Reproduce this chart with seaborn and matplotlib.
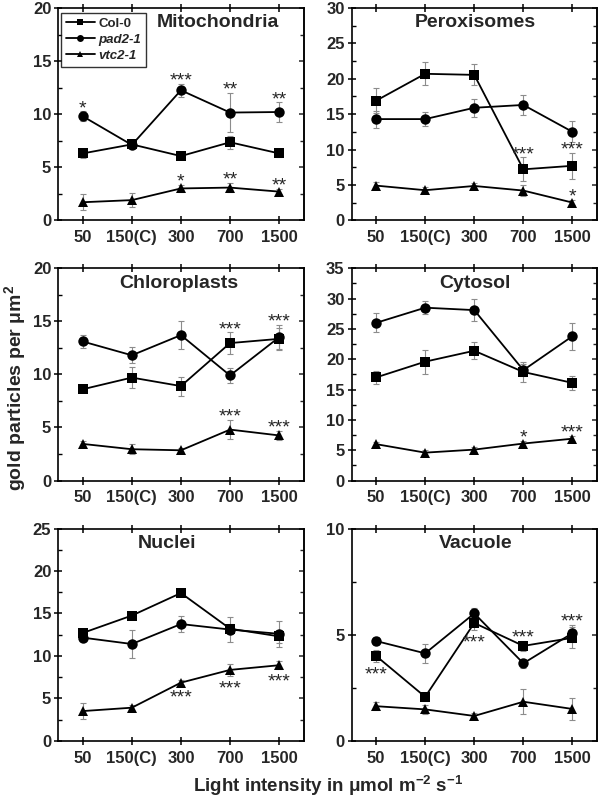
import numpy as np
import pandas as pd
import matplotlib
matplotlib.use("Agg")
import matplotlib.pyplot as plt
from matplotlib.lines import Line2D
from matplotlib.ticker import MultipleLocator
import seaborn as sns

# x categories and genotypes
light = ["50", "150(C)", "300", "700", "1500"]
genotypes = ["Col-0", "pad2-1", "vtc2-1"]

# means and standard errors
mito_mean = {"Col-0": [6.3, 7.15, 6.05, 7.35, 6.3],
             "pad2-1": [9.8, 7.1, 12.25, 10.15, 10.2],
             "vtc2-1": [1.7, 1.9, 3.0, 3.08, 2.7]}
mito_err = {"Col-0": [0.45, 0.3, 0.3, 0.6, 0.35],
            "pad2-1": [0.45, 0.3, 0.6, 1.85, 0.9],
            "vtc2-1": [0.75, 0.65, 0.3, 0.45, 0.25]}

perox_mean = {"Col-0": [16.9, 20.7, 20.55, 7.2, 7.7],
              "pad2-1": [14.3, 14.3, 15.9, 16.3, 12.5],
              "vtc2-1": [4.9, 4.25, 4.85, 4.2, 2.5]}
perox_err = {"Col-0": [1.8, 1.6, 1.5, 1.7, 1.8],
             "pad2-1": [1.2, 1.0, 1.3, 1.4, 1.5],
             "vtc2-1": [0.5, 0.4, 0.4, 0.8, 0.4]}

chloro_mean = {"Col-0": [8.6, 9.7, 8.9, 12.95, 13.35],
               "pad2-1": [13.1, 11.8, 13.7, 9.9, 13.5],
               "vtc2-1": [3.45, 2.95, 2.85, 4.8, 4.25]}
chloro_err = {"Col-0": [0.3, 1.0, 0.9, 1.0, 1.0],
              "pad2-1": [0.6, 0.75, 1.3, 0.75, 1.2],
              "vtc2-1": [0.25, 0.45, 0.25, 0.9, 0.45]}

cyto_mean = {"Col-0": [17.0, 19.6, 21.4, 17.9, 16.1],
             "pad2-1": [26.0, 28.5, 28.1, 18.2, 23.8],
             "vtc2-1": [6.0, 4.6, 5.1, 6.1, 6.9]}
cyto_err = {"Col-0": [1.1, 2.0, 1.4, 1.6, 1.2],
            "pad2-1": [1.55, 1.1, 1.8, 1.0, 2.2],
            "vtc2-1": [0.35, 0.5, 0.4, 0.5, 0.4]}

nuclei_mean = {"Col-0": [12.7, 14.75, 17.4, 13.2, 12.3],
               "pad2-1": [12.15, 11.4, 13.75, 13.1, 12.6],
               "vtc2-1": [3.5, 3.9, 6.85, 8.35, 8.9]}
nuclei_err = {"Col-0": [0.5, 0.3, 0.3, 0.6, 0.8],
              "pad2-1": [0.4, 1.6, 0.9, 1.5, 1.5],
              "vtc2-1": [0.95, 0.35, 0.3, 0.7, 0.5]}

vacuole_mean = {"Col-0": [4.0, 2.07, 5.55, 4.47, 4.85],
                "pad2-1": [4.7, 4.12, 6.0, 3.65, 5.07],
                "vtc2-1": [1.63, 1.48, 1.17, 1.84, 1.5]}
vacuole_err = {"Col-0": [0.3, 0.2, 0.35, 0.25, 0.5],
               "pad2-1": [0.2, 0.45, 0.25, 0.2, 0.4],
               "vtc2-1": [0.2, 0.2, 0.15, 0.6, 0.5]}

titles = ["Mitochondria", "Peroxisomes", "Chloroplasts", "Cytosol", "Nuclei", "Vacuole"]
y_max = [20, 30, 20, 35, 25, 10]

# significance marks: (category, genotype, text, side)
stars = [
    [("50", "pad2-1", "*", "up"), ("300", "pad2-1", "***", "up"),
     ("700", "pad2-1", "**", "up"), ("1500", "pad2-1", "**", "up"),
     ("300", "vtc2-1", "*", "up"), ("700", "vtc2-1", "**", "up"),
     ("1500", "vtc2-1", "**", "up")],
    [("700", "Col-0", "***", "up"), ("1500", "Col-0", "***", "up"),
     ("1500", "vtc2-1", "*", "up")],
    [("700", "Col-0", "***", "up"), ("1500", "pad2-1", "***", "up"),
     ("700", "vtc2-1", "***", "up"), ("1500", "vtc2-1", "***", "up")],
    [("700", "vtc2-1", "*", "up"), ("1500", "vtc2-1", "***", "up")],
    [("300", "vtc2-1", "***", "down"), ("700", "vtc2-1", "***", "down"),
     ("1500", "vtc2-1", "***", "down")],
    [("50", "Col-0", "***", "down"), ("300", "Col-0", "***", "down"),
     ("700", "Col-0", "***", "up"), ("1500", "pad2-1", "***", "up")],
]

means = [mito_mean, perox_mean, chloro_mean, cyto_mean, nuclei_mean, vacuole_mean]
errs = [mito_err, perox_err, chloro_err, cyto_err, nuclei_err, vacuole_err]

# layout
title_x = [0.65, 0.505, 0.49, 0.504, 0.443, 0.507]
markers = {"Col-0": "s", "pad2-1": "o", "vtc2-1": "^"}

sns.set_theme(style="ticks")
plt.rcParams["font.family"] = ["Liberation Sans", "DejaVu Sans"]
plt.rcParams["font.weight"] = "bold"
plt.rcParams["mathtext.default"] = "regular"

fig, axes = plt.subplots(3, 2, figsize=(6, 8), dpi=100)
fig.subplots_adjust(left=0.097, right=0.995, top=0.99, bottom=0.074,
                    wspace=0.195, hspace=0.226)

for i, ax in enumerate(axes.flat):
    rows = []
    for g in genotypes:
        for x, m, e in zip(light, means[i][g], errs[i][g]):
            rows.append({"light": x, "genotype": g, "value": m, "err": e})
    df = pd.DataFrame(rows)

    for g in genotypes:
        sub = df[df.genotype == g]
        ax.errorbar(sub["light"], sub["value"], yerr=sub["err"], fmt="none",
                    ecolor="#8c8c8c", elinewidth=0.8, capsize=2.2, capthick=0.8, zorder=1)

    sns.lineplot(data=df, x="light", y="value", style="genotype", markers=markers,
                 dashes=False, color="black", sort=False, linewidth=1.3,
                 markersize=7.5, markeredgewidth=0, legend=False, ax=ax, zorder=3)

    for cat, g, txt, side in stars[i]:
        row = df[(df.light == cat) & (df.genotype == g)].iloc[0]
        if side == "up":
            ax.annotate(txt, (cat, row.value + row.err), xytext=(0, -1.2),
                        textcoords="offset points", ha="center", va="baseline",
                        fontsize=14, fontweight="normal")
        else:
            ax.annotate(txt, (cat, row.value - row.err), xytext=(0, -12.5),
                        textcoords="offset points", ha="center", va="baseline",
                        fontsize=14, fontweight="normal")

    ax.set_xlim(-0.5, 4.5)
    ax.set_ylim(0, y_max[i])
    ax.yaxis.set_major_locator(MultipleLocator(5))
    ax.yaxis.set_minor_locator(MultipleLocator(2.5))
    ax.set_xlabel("")
    ax.set_ylabel("")
    for s in ax.spines.values():
        s.set_linewidth(1.2)
        s.set_color("black")
    ax.tick_params(axis="x", which="major", direction="inout", top=True, bottom=True,
                   length=6, width=1.1, color="black", labelsize=12, pad=4)
    ax.tick_params(axis="y", which="major", direction="inout", left=True, right=False,
                   length=6, width=1.1, color="black", labelsize=12, pad=2)
    ax.tick_params(axis="y", which="minor", direction="in", left=True, right=False,
                   length=3, width=1.0, color="black")
    sec = ax.secondary_yaxis("right")
    sec.yaxis.set_major_locator(MultipleLocator(5))
    sec.yaxis.set_minor_locator(MultipleLocator(2.5))
    sec.tick_params(which="major", direction="in", length=3.5, width=1.1, labelright=False)
    sec.tick_params(which="minor", direction="in", length=3, width=1.0)
    sec.spines["right"].set_linewidth(1.2)
    for lab in ax.get_xticklabels() + ax.get_yticklabels():
        lab.set_fontweight("bold")
    ax.text(title_x[i], 0.93, titles[i], transform=ax.transAxes, ha="center",
            va="center", fontsize=14, fontweight="bold")

handles = [Line2D([], [], color="black", marker=markers[g], markersize=5,
                  linewidth=1.3, markeredgewidth=0) for g in genotypes]
leg = axes[0, 0].legend(handles, genotypes, loc="upper left", bbox_to_anchor=(0.012, 0.978),
                        frameon=True, fancybox=False, edgecolor="black", fontsize=9.5,
                        handlelength=2.2, handletextpad=0.3, borderpad=0.35,
                        labelspacing=0.3, borderaxespad=0)
leg.get_frame().set_linewidth(1.0)
for t in leg.get_texts():
    t.set_fontweight("bold")
    if t.get_text() != "Col-0":
        t.set_fontstyle("italic")

fig.text(0.025, 0.515, "gold particles per μm$^2$", rotation=90, ha="center",
         va="center", fontsize=14, fontweight="bold")
fig.text(0.546, 0.017, "Light intensity in μmol m$^{-2}$ s$^{-1}$", ha="center",
         va="center", fontsize=13.5, fontweight="bold")

fig.savefig("out.png", dpi=100)
